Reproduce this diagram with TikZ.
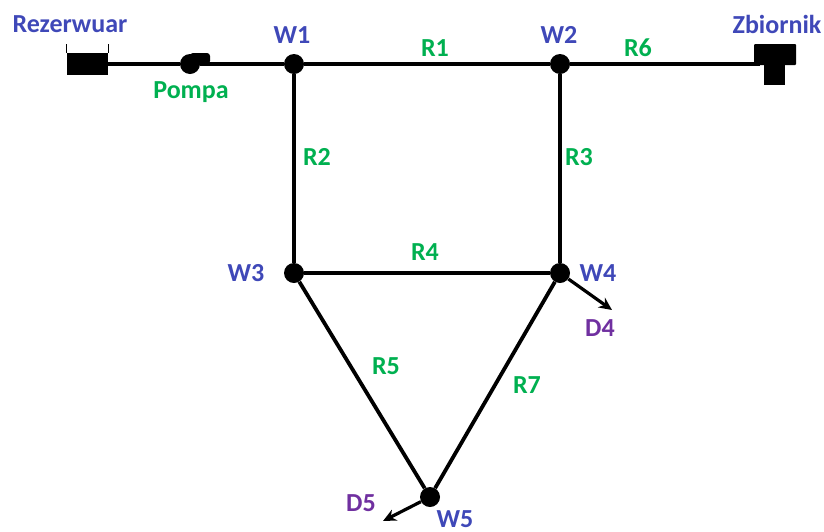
\documentclass[tikz,border=0pt]{standalone}
\usepackage{fontspec}
\setmainfont{Carlito}
\usepackage{tikz}
\usetikzlibrary{arrows.meta}
\definecolor{wblue}{RGB}{63,72,184}
\definecolor{rgreen}{RGB}{0,176,80}
\definecolor{dpurple}{RGB}{112,48,160}
\begin{document}
\begin{tikzpicture}[x=1pt,y=-1pt,inner sep=0pt]

\tikzstyle{junction} = [circle, fill=black, minimum size=20pt]
\tikzstyle{block} = [rectangle, fill=black]
\tikzstyle{wname} = [text=wblue, font=\fontsize{26}{28}\selectfont\bfseries]
\tikzstyle{rname} = [text=rgreen, font=\fontsize{26}{28}\selectfont\bfseries]
\tikzstyle{dname} = [text=dpurple, font=\fontsize{26}{28}\selectfont\bfseries]
\tikzstyle{pipe} = [line width=3.8pt,black]
\tikzstyle{arrow} = [line width=3.2pt,black,-{Stealth[length=13pt,width=12pt]}]

\useasboundingbox (0,0) rectangle (824,531);

\node (tank) [block, minimum width=41pt, minimum height=22pt] at (87.5,64) {};
\node (pump) [circle, fill=black, minimum size=20pt] at (190,64) {};
\node (pumphead) [block, rounded corners=3pt, minimum width=20pt, minimum height=11pt] at (200,58.5) {};
\node (res) [block, rounded corners=1pt, minimum width=42pt, minimum height=21pt] at (775,54.5) {};
\node (resfoot) [block, minimum width=21pt, minimum height=22pt] at (774.5,74) {};

\node (w1) [junction] at (294,64) {};
\node (w2) [junction] at (560,64) {};
\node (w3) [junction] at (294,273) {};
\node (w4) [junction] at (560,273) {};
\node (w5) [junction] at (430,497) {};
\coordinate (d4end) at (612,310);
\coordinate (d5end) at (383,521);
\coordinate (resin) at (760,64);

\draw [line width=0.8pt] (tank.north west) -- ++(0,-9);
\draw [line width=0.8pt] (tank.north east) -- ++(0,-9);

\draw [pipe] (tank) -- (pump);
\draw [pipe] (pump) -- (w1);
\draw [pipe] (w1) -- (w2);
\draw [pipe] (w2) -- (resin);
\draw [pipe] (w1) -- (w3);
\draw [pipe] (w2) -- (w4);
\draw [pipe] (w3) -- (w4);
\draw [pipe] (w3) -- (w5);
\draw [pipe] (w4) -- (w5);
\draw [arrow] (w4) -- (d4end);
\draw [arrow] (w5) -- (d5end);

\node (trez) [wname] at (70,24) {Rezerwuar};
\node (tzbi) [wname] at (777,24) {Zbiornik};
\node (tw1) [wname] at (292,35) {W1};
\node (tw2) [wname] at (559,35) {W2};
\node (tw3) [wname] at (246,273) {W3};
\node (tw4) [wname] at (598,273) {W4};
\node (tw5) [wname] at (455,519) {W5};

\node (tpom) [rname] at (191,92) {Pompa};
\node (tr1) [rname] at (435,48) {R1};
\node (tr2) [rname] at (317,157) {R2};
\node (tr3) [rname] at (579,157) {R3};
\node (tr4) [rname] at (425,252) {R4};
\node (tr5) [rname] at (386,366) {R5};
\node (tr6) [rname] at (638,48) {R6};
\node (tr7) [rname] at (527,385) {R7};

\node (td4) [dname] at (600,328) {D4};
\node (td5) [dname] at (361,503) {D5};

\end{tikzpicture}
\end{document}
